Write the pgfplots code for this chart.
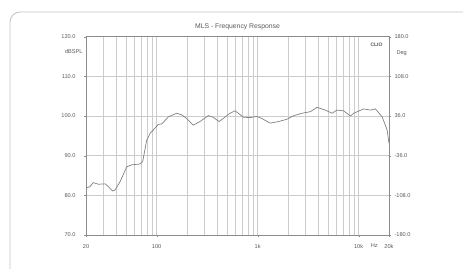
\documentclass[border=0pt]{standalone}
\usepackage{pgfplots}
\pgfplotsset{compat=1.18}
\usepackage{fontspec}
\setmainfont{Liberation Sans}
\definecolor{gridc}{gray}{0.8}
\definecolor{axc}{gray}{0.55}
\definecolor{txt}{gray}{0.35}
\definecolor{curve}{gray}{0.5}
\definecolor{frame}{RGB}{200,192,192}
\begin{document}
\begin{tikzpicture}[x=1pt,y=1pt]
\path[use as bounding box] (0,0) rectangle (463,268);
\begin{scope}
\clip (0,0) rectangle (463,268);
\draw[frame,line width=0.8pt,rounded corners=10pt] (10,-20) rectangle (500,256);
\end{scope}
\begin{axis}[
  at={(86pt,33pt)}, anchor=south west,
  scale only axis, width=303pt, height=198.3pt,
  xmode=log, xmin=20, xmax=20000, ymin=70, ymax=120,
  log basis x=10,
  xtick={20,100,1000,10000,20000},
  xticklabels={20,100,1k,10k,20k},
  minor xtick={30,40,50,60,70,80,90,200,300,400,500,600,700,800,900,2000,3000,4000,5000,6000,7000,8000,9000},
  xmajorgrids, xminorgrids, ymajorgrids,
  ytick={70,80,90,100,110,120},
  yticklabels={70.0,80.0,90.0,100.0,110.0,120.0},
  grid style={gridc, line width=0.6pt},
  minor grid style={gridc, line width=0.6pt},
  axis line style={axc, line width=0.6pt},
  major tick length=2pt, minor tick length=0pt,
  tick style={axc},
  tick align=outside,
  xtick pos=bottom, ytick pos=left,
  ticklabel style={font=\fontsize{5.6}{6}\selectfont, text=txt},
  yticklabel style={xshift=-5pt},
  xticklabel style={yshift=-4pt},
  title={MLS - Frequency Response},
  title style={font=\fontsize{6.8}{7.5}\selectfont, text=txt, yshift=-3pt},
  clip=false,
]
\addplot[curve, line width=0.7pt] coordinates {
(20,81.8) (21.9,82.2) (23.6,83.2) (26.6,82.8) (30.9,82.9) (33.3,82.2)
(36.7,81.1) (38.7,81.3) (43.4,83.4) (50.7,87.2) (56.8,87.7) (68.6,87.9)
(72.8,88.5) (79.8,93.9) (86.1,95.6) (92.9,96.5) (104,97.9) (112.5,98.0)
(130.8,99.8) (158,100.7) (177,100.3) (198,99.4) (231,97.7) (268,98.6)
(325,100.1) (364,99.7) (414,98.6) (458,99.4) (533,100.7) (597,101.3)
(645,100.7) (723,99.7) (842,99.6) (978,99.9) (1097,99.4) (1330,98.2)
(1612,98.6) (1957,99.2) (2280,100.1) (2760,100.7) (3340,101.1) (3870,102.2)
(4680,101.5) (5450,100.7) (6120,101.5) (7120,101.3) (8290,100.0) (8940,100.7)
(11240,101.8) (13100,101.5) (14660,101.8) (17100,99.8) (19150,96.5) (20000,93.1)
};
\node[font=\fontsize{5.6}{6}\selectfont, text=txt, anchor=north] at (axis cs:14300,70) [yshift=-5pt] {Hz};
\node[font=\fontsize{5.6}{6}\selectfont, text=txt, anchor=east] at (axis cs:20,116.2) [xshift=0pt] {dBSPL};
\node[font=\bfseries\fontsize{5}{6}\selectfont, text=txt, anchor=north east] at (axis cs:20000,120) [xshift=-3pt,yshift=-3pt] {CLIO};
\end{axis}
\begin{axis}[
  at={(86pt,33pt)}, anchor=south west,
  scale only axis, width=303pt, height=198.3pt,
  xmode=log, xmin=20, xmax=20000, ymin=-180, ymax=180,
  hide x axis, axis y line*=right,
  ytick={-180,-108,-36,36,108,180},
  yticklabels={-180.0,-108.0,-36.0,36.0,108.0,180.0},
  axis line style={axc, line width=0.6pt},
  major tick length=2pt, tick style={axc}, tick align=outside,
  ticklabel style={font=\fontsize{5.6}{6}\selectfont, text=txt},
  clip=false,
]
\node[font=\fontsize{5.6}{6}\selectfont, text=txt, anchor=west] at (axis cs:20000,151) [xshift=4pt] {Deg};
\end{axis}
\end{tikzpicture}
\end{document}
